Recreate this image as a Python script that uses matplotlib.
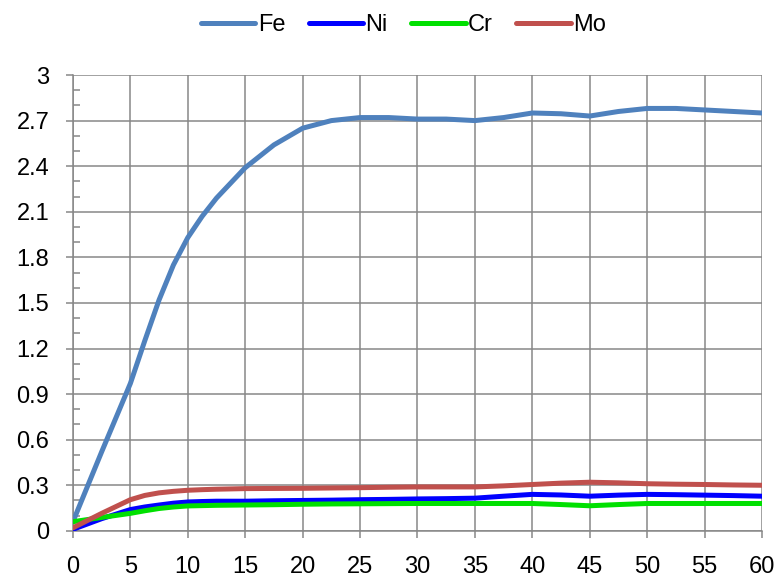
import numpy as np
import matplotlib.pyplot as plt
from matplotlib.ticker import MultipleLocator

plt.rcParams['font.family'] = ['Liberation Sans', 'DejaVu Sans']

# time values (every 2.5, a few extra points on the steep part)
t = [0, 2.5, 5, 6.25, 7.5, 8.75, 10, 11.25, 12.5, 15, 17.5, 20, 22.5, 25, 27.5, 30,
     32.5, 35, 37.5, 40, 42.5, 45, 47.5, 50, 52.5, 55, 57.5, 60]

fe = [0.06, 0.52, 0.97, 1.25, 1.52, 1.75, 1.93, 2.07, 2.19, 2.39, 2.54, 2.65, 2.70, 2.72, 2.72, 2.71,
      2.71, 2.70, 2.72, 2.75, 2.745, 2.73, 2.76, 2.78, 2.78, 2.77, 2.76, 2.75]
ni = [0.01, 0.08, 0.14, 0.157, 0.17, 0.182, 0.19, 0.193, 0.195, 0.195, 0.198, 0.20, 0.202, 0.205, 0.207, 0.21,
      0.212, 0.215, 0.228, 0.24, 0.236, 0.228, 0.235, 0.24, 0.238, 0.235, 0.232, 0.228]
cr = [0.06, 0.088, 0.115, 0.132, 0.147, 0.157, 0.164, 0.166, 0.168, 0.17, 0.172, 0.175, 0.177, 0.178, 0.179, 0.18,
      0.18, 0.18, 0.18, 0.18, 0.173, 0.165, 0.173, 0.18, 0.18, 0.18, 0.18, 0.18]
mo = [0.02, 0.115, 0.205, 0.233, 0.25, 0.26, 0.267, 0.271, 0.274, 0.278, 0.279, 0.28, 0.282, 0.284, 0.287, 0.289,
      0.289, 0.289, 0.296, 0.305, 0.314, 0.32, 0.316, 0.31, 0.307, 0.305, 0.302, 0.30]

series = [("Fe", fe, "#4F81BD"), ("Ni", ni, "#0000FF"),
          ("Cr", cr, "#00E000"), ("Mo", mo, "#C0504D")]

fig = plt.figure(figsize=(7.76, 5.77), dpi=100)
ax = fig.add_axes([0.094, 0.080, 0.888, 0.790])

for name, vals, col in series:
    ax.plot(t, vals, color=col, lw=3.6, label=name, solid_joinstyle='round',
            solid_capstyle='round', zorder=3)

ax.set_xlim(0, 60)
ax.set_ylim(0, 3)
ax.xaxis.set_major_locator(MultipleLocator(5))
ax.yaxis.set_minor_locator(MultipleLocator(0.1))
yt = np.arange(0, 3.01, 0.3)
ax.set_yticks(yt)
ax.set_yticklabels(["0" if v == 0 else ("3" if abs(v - 3) < 1e-9 else f"{v:.1f}") for v in yt])

gc = "#878787"
ax.grid(True, which='major', color=gc, lw=1.1)
ax.set_axisbelow(True)
for s in ['top', 'right']:
    ax.spines[s].set_visible(False)
for s in ['left', 'bottom']:
    ax.spines[s].set_color(gc)
    ax.spines[s].set_linewidth(1.1)

ax.tick_params(axis='both', which='major', length=5, width=1.1, color=gc,
               labelsize=17, labelcolor='black')
ax.tick_params(axis='y', which='major', pad=12)
ax.tick_params(axis='x', which='major', pad=13)
ax.tick_params(axis='y', which='minor', direction='in', length=5, width=1.1, color=gc)

fig.legend(loc='upper center', bbox_to_anchor=(0.52, 1.0), ncol=4, frameon=False,
           fontsize=17, handlelength=2.3, handletextpad=0.1, columnspacing=1.0,
           borderaxespad=0.2)

fig.savefig("out.png", dpi=100)
